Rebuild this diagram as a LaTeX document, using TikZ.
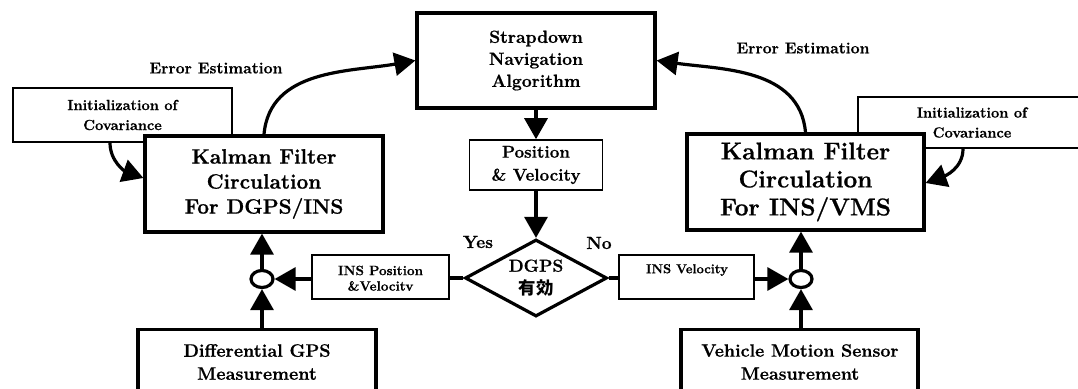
\documentclass[tikz,border=0pt]{standalone}
\usepackage{fontspec}
\setmainfont{Latin Modern Roman}[BoldFeatures={FakeBold=0.8}]
\newfontfamily\cjk{Noto Sans CJK JP}
\usetikzlibrary{arrows.meta,shapes.geometric}
\newcommand\fsz[2]{\fontsize{#1}{#2}\selectfont\bfseries}
\begin{document}
\begin{tikzpicture}[x=1pt,y=1pt,
  thickbox/.style={draw,line width=3.2pt,fill=white,inner sep=0pt},
  thinbox/.style={draw,line width=1.6pt,fill=white,inner sep=0pt},
  arr/.style={line width=3.2pt,-{Triangle[length=21pt,width=23pt]}},
  ln/.style={line width=3.2pt},
  lbl/.style={inner sep=0pt,align=center},
  junction/.style={draw,ellipse,line width=3.2pt,fill=white,minimum width=22pt,minimum height=17pt,inner sep=0pt}
]
\useasboundingbox (0,0) rectangle (1078,-388);
\begin{scope}
\clip (0,0) rectangle (1078,-388);
% initialization boxes (behind Kalman boxes)
\node[thinbox,minimum width=219,minimum height=54,align=center,font=\fsz{14.6}{20}] (initl) at (122.5,-115) {Initialization of\\Covariance};
\node[thinbox,minimum width=228,minimum height=51,align=center,font=\fsz{14.6}{20}] (initr) at (972,-122.5) {Initialization of\\Covariance};
% main boxes
\node[thickbox,minimum width=238,minimum height=95,align=center,font=\fsz{17.6}{22}] (strap) at (536,-60.5) {Strapdown\\Navigation\\Algorithm};
\node[thinbox,minimum width=133,minimum height=50,align=center,font=\fsz{17}{23}] (pv) at (536,-165) {Position\\\& Velocity};
\node[draw,diamond,line width=3.2pt,fill=white,shape aspect=1.84,minimum width=142,minimum height=77,inner sep=0pt,align=center,font=\fsz{17.4}{23}] (dia) at (536,-278) {DGPS\\{\cjk 有効}};
\node[thickbox,minimum width=238,minimum height=96,align=center,font=\fsz{20.8}{25}] (kall) at (264,-184) {Kalman Filter\\Circulation\\For DGPS/INS};
\node[thickbox,minimum width=237,minimum height=96,align=center,font=\fsz{24.3}{28}] (kalr) at (805.5,-182) {Kalman Filter\\Circulation\\For INS/VMS};
% INS boxes
\node[thinbox,minimum width=137,minimum height=44] (inspos) at (380.5,-277) {};
\begin{scope}
\clip (312,-255) rectangle (449,-290);
\node[lbl,font=\fsz{13.5}{15.5}] (insposT) at (380.5,-279.5) {INS Position\\\&Velocity};
\end{scope}
\node[thinbox,minimum width=135,minimum height=44] (insvel) at (686.5,-277) {};
\node[lbl,font=\fsz{13}{15}] (insvelT) at (687,-270) {INS Velocity};
% junctions
\node[junction] (cl) at (262,-279) {};
\node[junction] (cr) at (801,-279) {};
% measurement boxes
\node[thickbox,minimum width=238,minimum height=100,anchor=north] (dgps) at (257,-328) {};
\node[lbl,font=\fsz{18}{23}] (dgpsT) at (257,-362) {Differential GPS\\Measurement};
\node[thickbox,minimum width=237,minimum height=100,anchor=north] (vms) at (799.5,-328) {};
\node[lbl,font=\fsz{17.8}{23}] (vmsT) at (800,-362) {Vehicle Motion Sensor\\Measurement};
% labels
\node[lbl,font=\fsz{15.8}{18}] (eel) at (216,-68) {Error Estimation};
\node[lbl,font=\fsz{15.8}{18}] (eer) at (803,-48) {Error Estimation};
\node[lbl,font=\fsz{17.5}{18}] (yes) at (478,-242) {Yes};
\node[lbl,font=\fsz{17.5}{18}] (no) at (599,-243) {No};
% connectors
\draw[arr] (strap.south) -- (pv.north);
\draw[arr] (pv.south) -- (dia.north);
\draw[ln] (dia.west) -- (dia.west -| inspos.east);
\draw[arr] (inspos.west |- cl.east) -- (cl.east);
\draw[arr] (cl.north) -- (cl.north |- kall.south);
\draw[arr] (cl.south |- dgps.north) -- (cl.south);
\draw[ln] (dia.east) -- (dia.east -| insvel.west);
\draw[arr] (insvel.east |- cr.west) -- (cr.west);
\draw[arr] (cr.north) -- (cr.north |- kalr.south);
\draw[arr] (cr.south |- vms.north) -- (cr.south);
\draw[arr] (kall.north) to[out=85,in=190] (strap.west);
\draw[arr] (kalr.north) to[out=95,in=-8] (strap.east);
\draw[arr] ([xshift=-12.5pt]initl.south) to[out=-90,in=160] ([yshift=6pt]kall.west);
\draw[arr] ([xshift=-9pt]initr.south) to[out=-90,in=20] ([yshift=-1pt]kalr.east);
\end{scope}
\end{tikzpicture}
\end{document}
